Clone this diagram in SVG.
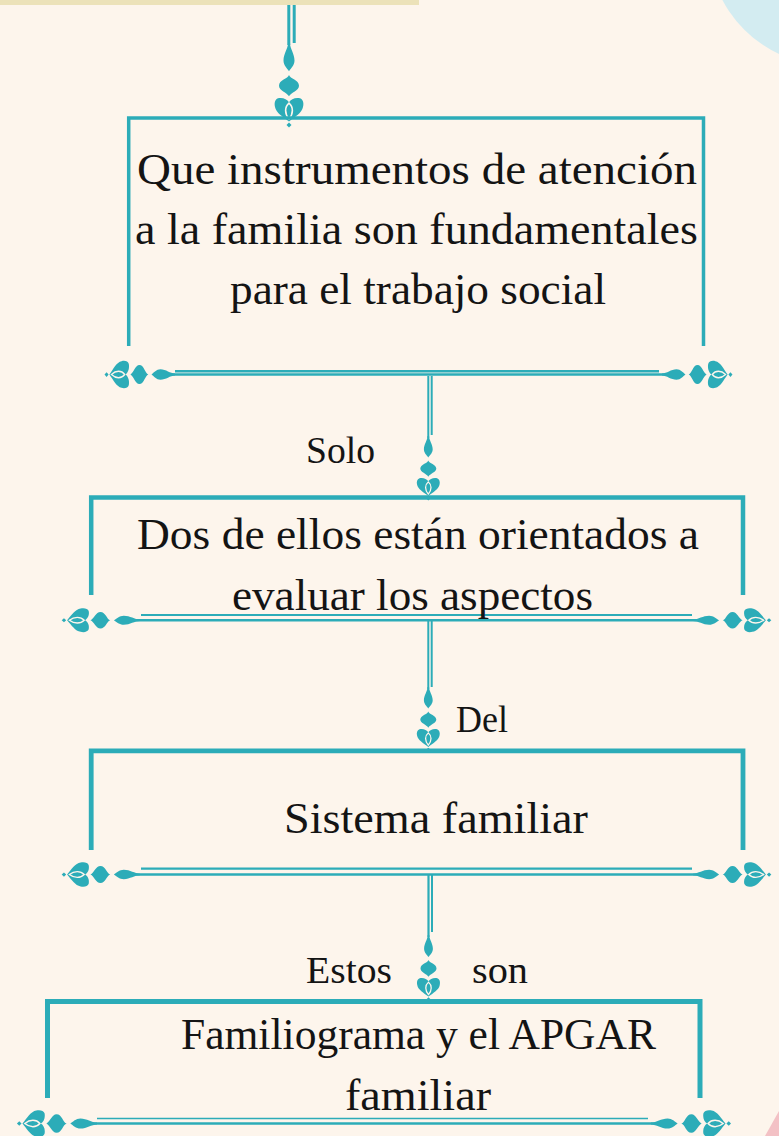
<svg xmlns="http://www.w3.org/2000/svg" xmlns:xlink="http://www.w3.org/1999/xlink" width="779" height="1136" viewBox="0 0 779 1136">
<defs>
<style>
.ln{stroke:#2CACB8;fill:none;stroke-linecap:butt}
.tx{font-family:"Liberation Serif","DejaVu Serif",serif;fill:#141414}
.big{font-size:44px}
.lab{font-size:37px}
.orn{fill:#2CACB8}
.hole{fill:none;stroke:#FDF5EC;stroke-width:1.6}
</style>
<g id="orn">
<path class="orn" d="M-1,0 L1,0 C1,6 5.5,11 5.5,18 C5.5,23 2,26 0,29 C-2,26 -5.5,23 -5.5,18 C-5.5,11 -1,6 -1,0 Z"/>
<path class="orn" d="M0,33 C1,37 10,38 10,44 C10,49 2,51 0,55 C-2,51 -10,49 -10,44 C-10,38 -1,37 0,33 Z"/>
<path class="orn" d="M0,61 C2,58 6,56 11,57 C14,58 15,62 14,66 C13,72 6,76 0,81 C-6,76 -13,72 -14,66 C-15,62 -14,58 -11,57 C-6,56 -2,58 0,61 Z"/>
<path class="hole" d="M0,62 C4.5,66 4.5,73 0,78.5 C-4.5,73 -4.5,66 0,62 Z"/>
<path class="orn" d="M0,82 L2.5,84.5 L0,87 L-2.5,84.5 Z"/>
</g>
</defs>
<rect x="0" y="0" width="779" height="1136" fill="#FDF5EC"/>
<circle cx="832" cy="-58" r="124" fill="#D3ECF1"/>
<polygon points="765,1136 779,1111 779,1136" fill="#F3C1C5"/>
<rect x="0" y="0" width="419" height="5" fill="#ECE2B9"/>

<g id="connectors">
<line class="ln" x1="288.8" y1="5" x2="288.8" y2="45" stroke-width="3"/>
<line class="ln" x1="294.2" y1="5" x2="294.2" y2="43" stroke-width="3"/>
<use xlink:href="#orn" transform="translate(289,43) scale(1,0.97)"/>

<line class="ln" x1="428.3" y1="376" x2="428.3" y2="438" stroke-width="2"/>
<line class="ln" x1="431.7" y1="376" x2="431.7" y2="435" stroke-width="2"/>
<use xlink:href="#orn" transform="translate(428.3,436) scale(0.8,0.74)"/>

<line class="ln" x1="428.3" y1="621" x2="428.3" y2="689" stroke-width="2"/>
<line class="ln" x1="431.7" y1="621" x2="431.7" y2="687" stroke-width="2"/>
<use xlink:href="#orn" transform="translate(428.3,687) scale(0.8,0.74)"/>

<line class="ln" x1="428.5" y1="875" x2="428.5" y2="937" stroke-width="2.2"/>
<line class="ln" x1="432" y1="875" x2="432" y2="932" stroke-width="2"/>
<use xlink:href="#orn" transform="translate(428.5,935) scale(0.8,0.76)"/>
</g>

<g id="node1">
<path class="ln" d="M128.7,346 V118 H703.5 V346" stroke-width="3.5"/>
<line class="ln" x1="175" y1="371.2" x2="659" y2="371.2" stroke-width="2.4"/>
<line class="ln" x1="170" y1="374.5" x2="667" y2="374.5" stroke-width="2.4"/>
<use xlink:href="#orn" transform="translate(175,374.5) rotate(90) scale(0.95,0.81)"/>
<use xlink:href="#orn" transform="translate(662,374.5) rotate(-90) scale(0.95,0.81)"/>
<text class="tx big" x="137" y="184" textLength="560" lengthAdjust="spacingAndGlyphs">Que instrumentos de atención</text>
<text class="tx big" x="135" y="244" textLength="563" lengthAdjust="spacingAndGlyphs">a la familia son fundamentales</text>
<text class="tx big" x="230" y="304" textLength="376" lengthAdjust="spacingAndGlyphs">para el trabajo social</text>
</g>

<g id="label-solo"><text class="tx lab" x="306" y="463" textLength="69" lengthAdjust="spacingAndGlyphs">Solo</text></g>

<g id="node2">
<path class="ln" d="M91.2,595 V497.5 H743 V595" stroke-width="4.5"/>
<line class="ln" x1="141" y1="615" x2="692" y2="615" stroke-width="2"/>
<line class="ln" x1="135" y1="620.2" x2="698" y2="620.2" stroke-width="2.6"/>
<use xlink:href="#orn" transform="translate(140,620.2) rotate(90) scale(0.83,0.9)"/>
<use xlink:href="#orn" transform="translate(693,620.2) rotate(-90) scale(0.83,0.9)"/>
<text class="tx big" x="137" y="549" textLength="562" lengthAdjust="spacingAndGlyphs">Dos de ellos están orientados a</text>
<text class="tx big" x="232" y="610" textLength="361" lengthAdjust="spacingAndGlyphs">evaluar los aspectos</text>
</g>

<g id="label-del"><text class="tx lab" x="456" y="732" textLength="52" lengthAdjust="spacingAndGlyphs">Del</text></g>

<g id="node3">
<path class="ln" d="M91.2,850 V750.8 H743 V850" stroke-width="4.8"/>
<line class="ln" x1="141" y1="868.6" x2="692" y2="868.6" stroke-width="2.4"/>
<line class="ln" x1="135" y1="874.5" x2="698" y2="874.5" stroke-width="2.6"/>
<use xlink:href="#orn" transform="translate(140,874.5) rotate(90) scale(0.85,0.9)"/>
<use xlink:href="#orn" transform="translate(693,874.5) rotate(-90) scale(0.85,0.9)"/>
<text class="tx big" x="284" y="833" textLength="304" lengthAdjust="spacingAndGlyphs">Sistema familiar</text>
</g>

<g id="label-estos"><text class="tx lab" x="306" y="983" textLength="86" lengthAdjust="spacingAndGlyphs">Estos</text></g>
<g id="label-son"><text class="tx lab" x="472" y="983" textLength="56" lengthAdjust="spacingAndGlyphs">son</text></g>

<g id="node4">
<path class="ln" d="M47.5,1098 V1001.5 H700 V1098" stroke-width="5"/>
<line class="ln" x1="97" y1="1118.5" x2="648" y2="1118.5" stroke-width="1.6"/>
<line class="ln" x1="92" y1="1123.5" x2="656" y2="1123.5" stroke-width="2.6"/>
<use xlink:href="#orn" transform="translate(97,1123.5) rotate(90) scale(0.93,0.92)"/>
<use xlink:href="#orn" transform="translate(651,1123.5) rotate(-90) scale(0.93,0.92)"/>
<text class="tx big" x="181" y="1049" textLength="475" lengthAdjust="spacingAndGlyphs">Familiograma y el APGAR</text>
<text class="tx big" x="345" y="1110" textLength="146" lengthAdjust="spacingAndGlyphs">familiar</text>
</g>
</svg>
